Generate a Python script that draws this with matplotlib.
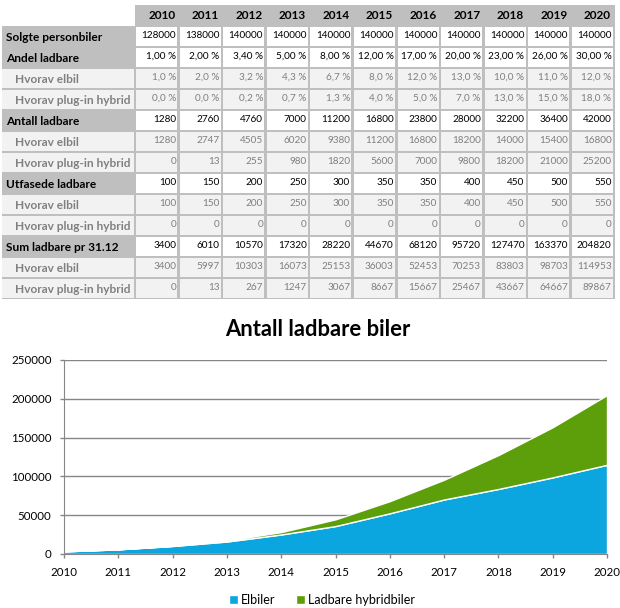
import matplotlib
matplotlib.use("Agg")
import matplotlib.pyplot as plt
from matplotlib.patches import Rectangle
from matplotlib.ticker import FuncFormatter

plt.rcParams['font.family'] = ['Lato', 'DejaVu Sans']

years = [2010, 2011, 2012, 2013, 2014, 2015, 2016, 2017, 2018, 2019, 2020]

solgte = [128000, 138000, 140000, 140000, 140000, 140000, 140000, 140000, 140000, 140000, 140000]
andel = [1.00, 2.00, 3.40, 5.00, 8.00, 12.00, 17.00, 20.00, 23.00, 26.00, 30.00]
andel_el = [1.0, 2.0, 3.2, 4.3, 6.7, 8.0, 12.0, 13.0, 10.0, 11.0, 12.0]
andel_plug = [0.0, 0.0, 0.2, 0.7, 1.3, 4.0, 5.0, 7.0, 13.0, 15.0, 18.0]
antall = [1280, 2760, 4760, 7000, 11200, 16800, 23800, 28000, 32200, 36400, 42000]
antall_el = [1280, 2747, 4505, 6020, 9380, 11200, 16800, 18200, 14000, 15400, 16800]
antall_plug = [0, 13, 255, 980, 1820, 5600, 7000, 9800, 18200, 21000, 25200]
utfas = [100, 150, 200, 250, 300, 350, 350, 400, 450, 500, 550]
utfas_el = [100, 150, 200, 250, 300, 350, 350, 400, 450, 500, 550]
utfas_plug = [0, 0, 0, 0, 0, 0, 0, 0, 0, 0, 0]
sum_ladbare = [3400, 6010, 10570, 17320, 28220, 44670, 68120, 95720, 127470, 163370, 204820]
sum_el = [3400, 5997, 10303, 16073, 25153, 36003, 52453, 70253, 83803, 98703, 114953]
sum_plug = [0, 13, 267, 1247, 3067, 8667, 15667, 25467, 43667, 64667, 89867]

rows = [
    ("Solgte personbiler", solgte, "main", "int"),
    ("Andel ladbare", andel, "main", "pct2"),
    ("Hvorav elbil", andel_el, "sub", "pct1"),
    ("Hvorav plug-in hybrid", andel_plug, "sub", "pct1"),
    ("Antall ladbare", antall, "main", "int"),
    ("Hvorav elbil", antall_el, "sub", "int"),
    ("Hvorav plug-in hybrid", antall_plug, "sub", "int"),
    ("Utfasede ladbare", utfas, "main", "int"),
    ("Hvorav elbil", utfas_el, "sub", "int"),
    ("Hvorav plug-in hybrid", utfas_plug, "sub", "int"),
    ("Sum ladbare pr 31.12", sum_ladbare, "main", "int"),
    ("Hvorav elbil", sum_el, "sub", "int"),
    ("Hvorav plug-in hybrid", sum_plug, "sub", "int"),
]

series_labels = ["Elbiler", "Ladbare hybridbiler"]
series_colors = ["#0BA5DF", "#5C9F0A"]


def fmt(v, kind):
    if kind == "pct2":
        return f"{v:.2f}".replace(".", ",") + " %"
    if kind == "pct1":
        return f"{v:.1f}".replace(".", ",") + " %"
    return f"{v:d}"


fig = plt.figure(figsize=(6.2, 6.08), dpi=100)

# ---- table (pixel layout) ----
tab = fig.add_axes([0, 0, 1, 1])
tab.set_xlim(0, 620)
tab.set_ylim(608, 0)
tab.axis('off')

grey = "#BFBFBF"
light = "#F2F2F2"
x_lab0, x_lab1 = 2, 135
col_w = (614 - 135) / 11
top, row_h = 5, 21
n = len(rows)
bottom = top + row_h * (n + 1)

tab.add_patch(Rectangle((x_lab0, top), 614.5 - x_lab0, bottom - top, color=grey, lw=0))
tab.add_patch(Rectangle((x_lab0, top), x_lab1 - x_lab0, row_h, color="white", lw=0))

for j, yr in enumerate(years):
    xr = x_lab1 + col_w * (j + 1)
    tab.text(xr - 3, top + 14, str(yr), ha='right', va='baseline',
             fontsize=8.5, fontweight='bold', color='black')

for i, (label, vals, kind, f) in enumerate(rows):
    y0 = top + row_h * (i + 1)
    if kind == "sub":
        tab.add_patch(Rectangle((x_lab0, y0 + 1.3), x_lab1 - x_lab0 - 1.3, row_h - 2.6,
                                color=light, lw=0))
        tab.text(15, y0 + 15.3, label, ha='left', va='baseline', fontsize=8.6,
                 fontweight='bold', color='#808080')
    else:
        tab.text(6, y0 + 15.3, label, ha='left', va='baseline', fontsize=8.6,
                 fontweight='bold', color='black')
    for j, v in enumerate(vals):
        xl = x_lab1 + col_w * j
        tab.add_patch(Rectangle((xl + 1.3, y0 + 1.3), col_w - 2.6, row_h - 2.6,
                                color=(light if kind == "sub" else "white"), lw=0))
        tab.text(xl + col_w - 2.5, y0 + 12, fmt(v, f), ha='right', va='baseline',
                 fontsize=7.2, color=('#7F7F7F' if kind == "sub" else 'black'))

# ---- chart ----
ax = fig.add_axes([64 / 620, (608 - 554) / 608, (607 - 64) / 620, (554 - 360) / 608])
ax.stackplot(years, sum_el, sum_plug, colors=series_colors, labels=series_labels,
             edgecolor='white', linewidth=1)
ax.set_xlim(2010, 2020)
ax.set_ylim(0, 250000)
ax.set_xticks(years)
ax.set_yticks(range(0, 250001, 50000))
ax.yaxis.set_major_formatter(FuncFormatter(lambda v, p: f"{v:.0f}"))
ax.grid(axis='y', color='#868686', lw=1)
ax.set_axisbelow(True)
for s in ['top', 'right']:
    ax.spines[s].set_visible(False)
for s in ['left', 'bottom']:
    ax.spines[s].set_color('#868686')
ax.tick_params(axis='both', colors='#868686', labelcolor='black', labelsize=8.3,
               length=3, width=1)
ax.tick_params(axis='x', pad=6)
ax.tick_params(axis='y', pad=6)

fig.text(318 / 620, 1 - 330 / 608, "Antall ladbare biler", ha='center', va='center',
         fontsize=15.8, fontweight='bold')

fig.legend(loc='center', bbox_to_anchor=(322 / 620, 1 - 600 / 608), ncol=2,
           frameon=False, fontsize=9, handlelength=0.7, handleheight=0.7,
           handletextpad=0.3, columnspacing=1.6)

fig.savefig("out.png", dpi=100)
